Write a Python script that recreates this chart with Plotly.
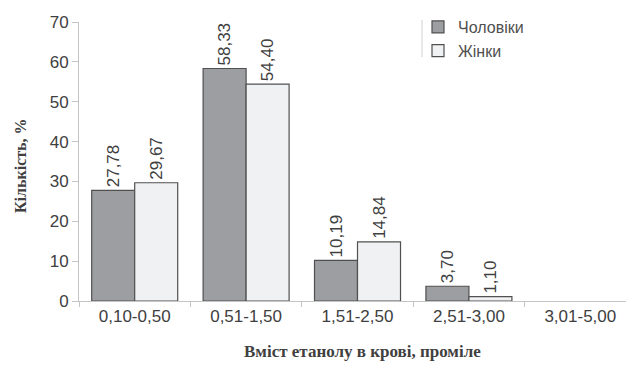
import plotly.graph_objects as go

categories = ["0,10-0,50", "0,51-1,50", "1,51-2,50", "2,51-3,00", "3,01-5,00"]
men = [27.78, 58.33, 10.19, 3.70, None]
women = [29.67, 54.40, 14.84, 1.10, None]
series_names = ["Чоловіки", "Жінки"]
y_ticks = [0, 10, 20, 30, 40, 50, 60, 70]
x_title = "Вміст етанолу в крові, проміле"
y_title = "Кількість, %"

def fmt(vals):
    return ["" if v is None else f"{v:.2f}".replace(".", ",") for v in vals]

W, H = 626, 372
L, R, T, B = 79, 0, 22, 71
pw, ph = W - L - R, H - T - B

text_color = "#404040"
axis_color = "#c4c4c4"
sans = "Liberation Sans, Arial"
serif = "Liberation Serif, Times New Roman"

fig = go.Figure()
for name, vals, fill in [(series_names[0], men, "#9d9ea2"), (series_names[1], women, "#f0f1f3")]:
    fig.add_trace(go.Bar(
        x=categories, y=vals, name=name,
        marker=dict(color=fill, line=dict(color="#505050", width=1.2)),
        text=fmt(vals), textposition="outside", textangle=-90,
        textfont=dict(family=sans, size=17, color=text_color),
        cliponaxis=False,
    ))

def px_x(p):
    return (p - L) / pw

def px_y(p):
    return (H - B - p) / ph

fig.update_layout(
    width=W, height=H,
    margin=dict(l=L, r=R, t=T, b=B, pad=0),
    paper_bgcolor="white", plot_bgcolor="white",
    barmode="group", bargap=0.228, bargroupgap=0,
    font=dict(family=sans, size=17, color=text_color),
    showlegend=True,
    legend=dict(
        x=px_x(418), y=px_y(10), xanchor="left", yanchor="top",
        bgcolor="rgba(0,0,0,0)", borderwidth=0,
        font=dict(family=sans, size=16, color="#505050"),
        itemwidth=30, tracegroupgap=0,
    ),
    xaxis=dict(
        type="category", range=[-0.5, 4.41],
        showline=True, linecolor=axis_color, linewidth=1,
        ticks="outside", ticklen=5, tickcolor=axis_color, tickson="boundaries",
        showgrid=False, zeroline=False,
        tickfont=dict(family=sans, size=17, color=text_color),
    ),
    yaxis=dict(
        range=[0, 70], tickvals=y_ticks,
        showline=True, linecolor=axis_color, linewidth=1,
        ticks="outside", ticklen=6, tickcolor=axis_color,
        showgrid=False, zeroline=False,
        tickfont=dict(family=sans, size=17, color=text_color),
    ),
    annotations=[
        dict(text=f"<b>{x_title}</b>", xref="paper", yref="paper",
             x=px_x(362), y=px_y(351), xanchor="center", yanchor="middle",
             showarrow=False, font=dict(family=serif, size=17, color=text_color)),
        dict(text=f"<b>{y_title}</b>", xref="paper", yref="paper",
             x=px_x(20), y=px_y(166), xanchor="center", yanchor="middle",
             textangle=-90, showarrow=False,
             font=dict(family=serif, size=16, color=text_color)),
    ],
    shapes=[
        dict(type="line", xref="paper", yref="paper",
             x0=px_x(422), x1=px_x(422), y0=px_y(57), y1=px_y(20),
             line=dict(color="#d0d0d0", width=1)),
    ],
)

fig.write_html("out.html")
